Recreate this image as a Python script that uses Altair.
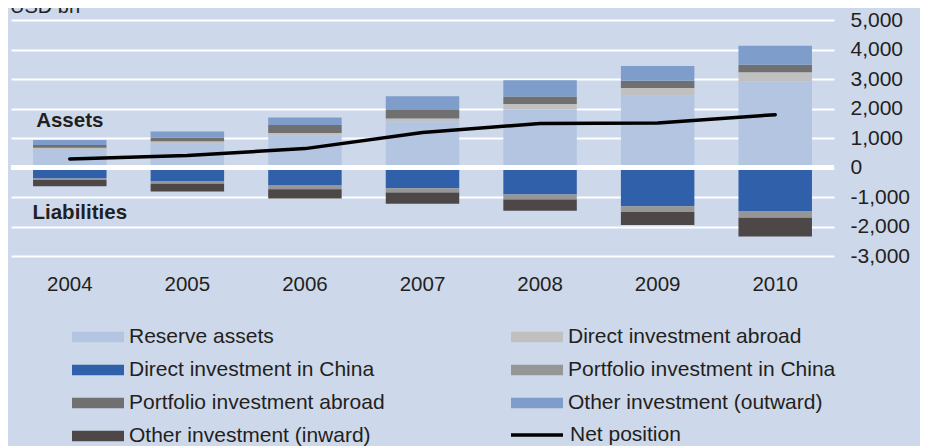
import altair as alt
import pandas as pd

FONT = "Liberation Sans"
TXT = "#231F20"
BG = "#CDD8EA"

years = ["2004", "2005", "2006", "2007", "2008", "2009", "2010"]
reserve_assets = [619, 826, 1081, 1547, 1966, 2453, 2914]
di_abroad = [53, 64, 91, 116, 186, 246, 311]
portfolio_abroad = [92, 117, 265, 285, 253, 243, 257]
other_outward = [166, 216, 254, 468, 552, 495, 644]
di_china = [-369, -472, -614, -704, -916, -1315, -1476]
portfolio_china = [-57, -77, -121, -147, -168, -190, -224]
other_inward = [-212, -268, -315, -377, -379, -441, -635]
net_position = [291, 408, 640, 1188, 1494, 1511, 1791]

legend_order = [
    "Reserve assets", "Direct investment abroad",
    "Direct investment in China", "Portfolio investment in China",
    "Portfolio investment abroad", "Other investment (outward)",
    "Other investment (inward)",
]
legend_colors = [
    "#B3C5E1", "#C0C0C0",
    "#3060AA", "#969696",
    "#707070", "#7F9DCB",
    "#4D4847",
]
net_name = ["Net position"]
y_ticks = [-3000, -2000, -1000, 0, 1000, 2000, 3000, 4000, 5000]

series = [
    ("Reserve assets", reserve_assets, 0),
    ("Direct investment abroad", di_abroad, 1),
    ("Portfolio investment abroad", portfolio_abroad, 2),
    ("Other investment (outward)", other_outward, 3),
    ("Direct investment in China", di_china, 0),
    ("Portfolio investment in China", portfolio_china, 1),
    ("Other investment (inward)", other_inward, 2),
]
rows = []
for name, vals, ordv in series:
    for yr, v in zip(years, vals):
        rows.append({"year": yr, "series": name, "value": v, "ord": ordv})
bars_df = pd.DataFrame(rows)
net_df = pd.DataFrame({"year": years, "value": net_position, "name": net_name * len(years)})
zero_df = pd.DataFrame({"value": [0]})

x_scale = alt.Scale(domain=years, paddingInner=0.375, paddingOuter=0.1875)
x_axis = alt.Axis(
    title=None, orient="bottom", labelAngle=0, domain=False, ticks=False,
    grid=False, labelPadding=18, labelFontSize=20.5, labelFont=FONT,
    labelColor=TXT,
)
y_scale = alt.Scale(domain=[-3000, 5000], nice=False, zero=True)
y_axis = alt.Axis(
    orient="right", values=y_ticks, title=None, domain=False, ticks=False,
    grid=True, gridColor="white", gridWidth=2, gridOpacity=1,
    labelPadding=16, labelFontSize=21, labelFont=FONT, labelColor=TXT,
    labelAlign="left", labelBaseline="middle", labelOverlap=False,
    labelExpr="(datum.value < 0 ? '-' : '') + format(abs(datum.value), ',')",
)

def X():
    return alt.X("year:N", scale=x_scale, axis=x_axis)

def Y(**kw):
    return alt.Y("value:Q", scale=y_scale, axis=y_axis, title=None, **kw)

bars = alt.Chart(bars_df).mark_bar().encode(
    x=X(),
    y=Y(stack="zero"),
    color=alt.Color(
        "series:N",
        scale=alt.Scale(domain=legend_order, range=legend_colors),
        legend=alt.Legend(
            title=None, orient="none", legendX=61, legendY=304, columns=2,
            direction="horizontal",
            columnPadding=126, rowPadding=10, padding=0,
            symbolType="M-1,-0.4H3V0.4H-1Z", symbolSize=676,
            symbolStrokeWidth=0, labelFontSize=21, labelFont=FONT,
            labelColor=TXT, labelOffset=31, labelLimit=600,
        ),
    ),
    order=alt.Order("ord:Q", sort="ascending"),
)

zero_rule = alt.Chart(zero_df).mark_rule(color="white", strokeWidth=5).encode(
    y=Y()
)

line = alt.Chart(net_df).mark_line(
    strokeWidth=3.5, strokeCap="round", strokeJoin="round"
).encode(
    x=X(),
    y=Y(),
    stroke=alt.Stroke(
        "name:N",
        scale=alt.Scale(domain=net_name, range=["#000000"]),
        legend=alt.Legend(
            title=None, orient="none", legendX=498,
            legendY=400, padding=0,
            symbolType="M-1,0H3", symbolSize=676, symbolStrokeWidth=3.5,
            symbolFillColor="transparent",
            labelFontSize=21, labelFont=FONT, labelColor=TXT, labelOffset=31,
            labelLimit=600,
        ),
    ),
)

assets_lbl = alt.Chart(pd.DataFrame({"year": ["2004"], "value": [1593], "label": ["Assets"]})).mark_text(
    fontSize=20.5, fontWeight="bold", font=FONT, color=TXT, baseline="middle", align="center", dx=0
).encode(x=X(), y=Y(), text="label:N")

liab_lbl = alt.Chart(pd.DataFrame({"year": ["2004"], "value": [-1542], "label": ["Liabilities"]})).mark_text(
    fontSize=20.5, fontWeight="bold", font=FONT, color=TXT, baseline="middle", align="center", dx=10
).encode(x=X(), y=Y(), text="label:N")

unit_lbl = alt.Chart(pd.DataFrame({"label": ["USD bn"]})).mark_text(
    fontSize=20, font=FONT, color=TXT, baseline="alphabetic", align="left"
).encode(x=alt.value(-1), y=alt.value(-7), text="label:N")

chart = alt.layer(bars, zero_rule, line, assets_lbl, liab_lbl, unit_lbl).properties(
    width=823,
    height=236,
    padding={"left": 3, "top": 12, "right": 86, "bottom": 190},
    autosize=alt.AutoSizeParams(type="none"),
    background=BG,
).configure_view(stroke=None).configure_axis(labelOverlap=False)

chart.save("out.html", embed_options={"renderer": "svg", "actions": False})
